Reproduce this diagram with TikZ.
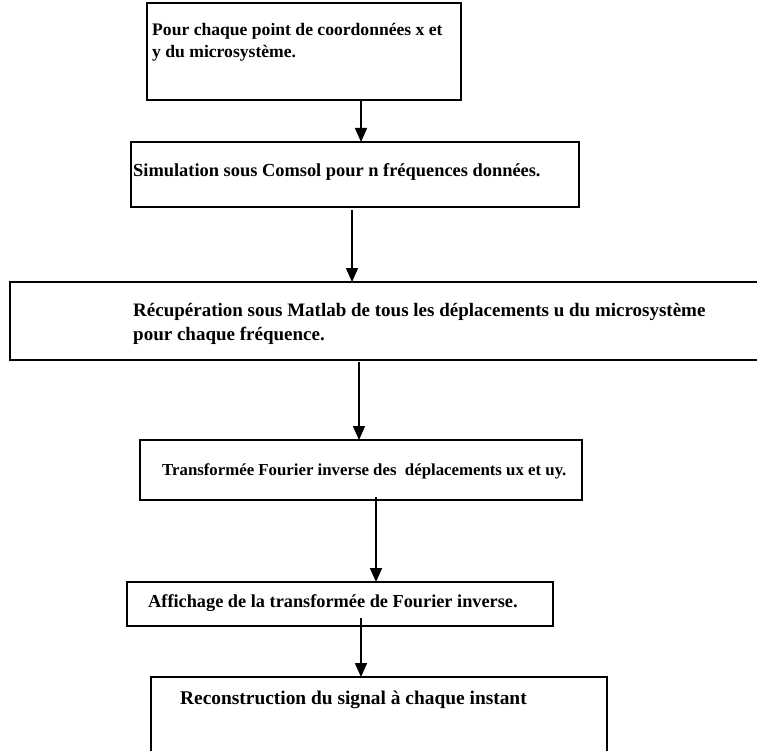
\documentclass[tikz,border=0pt]{standalone}
\usepackage{fontspec}
\setmainfont{Liberation Serif}
\usetikzlibrary{arrows.meta,calc}
\begin{document}
\begin{tikzpicture}[x=1pt,y=1pt,
  box/.style={draw=black, line width=1.6pt, inner sep=0pt, outer sep=0pt, anchor=north west},
  txt/.style={anchor=west, inner sep=0pt, align=left, font=\bfseries},
  arr/.style={draw=black, line width=1.5pt, -{Triangle[length=14pt,width=12pt]}}]
\useasboundingbox (0,0) rectangle (757,-751);
\clip (0,0) rectangle (757,-751);
% boxes
\node[box, minimum width=314pt, minimum height=97pt] (b1) at (147,-3) {};
\node[box, minimum width=448pt, minimum height=65pt] (b2) at (131,-142) {};
\node[box, minimum width=770pt, minimum height=78pt] (b3) at (10,-282) {};
\node[box, minimum width=442pt, minimum height=60pt] (b4) at (140,-440) {};
\node[box, minimum width=426pt, minimum height=44pt] (b5) at (127,-582) {};
\node[box, minimum width=456pt, minimum height=90pt] (b6) at (151,-677) {};
% texts
\node[txt, font=\bfseries\fontsize{17.6}{22}\selectfont] (t1) at ($(b1.north west)+(5,-39)$)
  {Pour chaque point de coordonnées x et\\y du microsystème.};
\node[txt, font=\bfseries\fontsize{18.4}{22}\selectfont] (t2) at ($(b2.north west)+(2,-30)$)
  {Simulation sous Comsol pour n fréquences données.};
\node[txt, font=\bfseries\fontsize{19}{24}\selectfont] (t3) at ($(b3.north west)+(123,-42)$)
  {Récupération sous Matlab de tous les déplacements u du microsystème\\pour chaque fréquence.};
\node[txt, font=\bfseries\fontsize{16.8}{20}\selectfont] (t4) at ($(b4.north west)+(22,-31)$)
  {Transformée Fourier inverse des~ déplacements ux et uy.};
\node[txt, font=\bfseries\fontsize{18.3}{22}\selectfont] (t5) at ($(b5.north west)+(21,-21)$)
  {Affichage de la transformée de Fourier inverse.};
\node[txt, font=\bfseries\fontsize{19.4}{23}\selectfont] (t6) at ($(b6.north west)+(29,-23)$)
  {Reconstruction du signal à chaque instant};
% arrow positions
\coordinate (x1) at (361,0);
\coordinate (x2) at (352,0);
\coordinate (x3) at (359,0);
\coordinate (x4) at (376,0);
\coordinate (x5) at (361,0);
\draw[arr] (b1.south -| x1) -- (b2.north -| x1);
\draw[arr] ($(b2.south -| x2)+(0,-3)$) -- (b3.north -| x2);
\draw[arr] ($(b3.south -| x3)+(0,-2)$) -- (b4.north -| x3);
\draw[arr] ($(b4.south -| x4)+(0,3)$) -- (b5.north -| x4);
\draw[arr] ($(b5.south -| x5)+(0,8)$) -- (b6.north -| x5);
\end{tikzpicture}
\end{document}
